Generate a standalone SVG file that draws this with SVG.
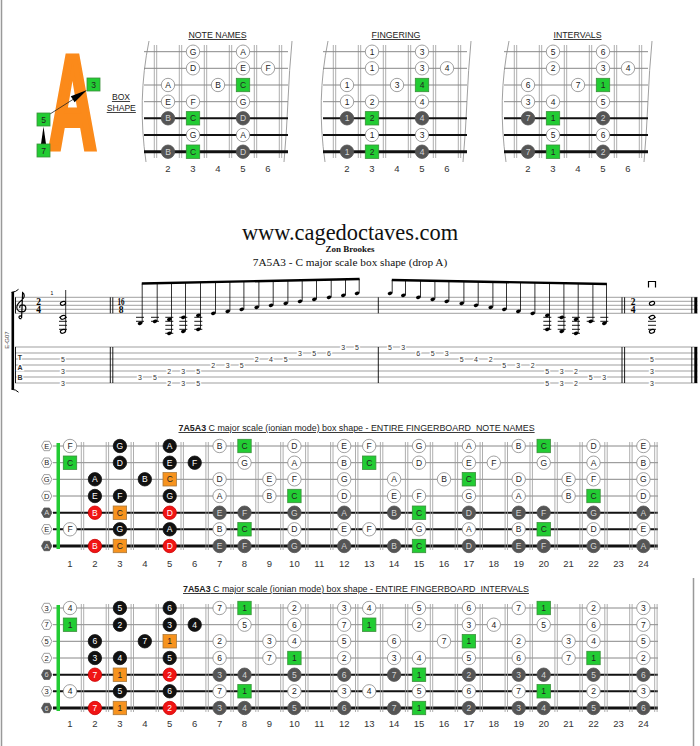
<svg xmlns="http://www.w3.org/2000/svg" xmlns:xlink="http://www.w3.org/1999/xlink" width="700" height="746" viewBox="0 0 700 746">
<style>
text{font-family:"Liberation Sans",Arial,sans-serif}
.serif{font-family:"Liberation Serif","Times New Roman",serif}
.nt text{font-size:8.5px;text-anchor:middle;fill:#222;dominant-baseline:central}
.nt text.l{fill:#fff}
.nt text.m{fill:#d4d4d4}
.w{fill:#fff;stroke:#888;stroke-width:.8}
.k{fill:#111;stroke:#111;stroke-width:.8}
.d{fill:#555;stroke:#555;stroke-width:.8}
.r{fill:#f01414;stroke:#c00;stroke-width:.8}
.g{fill:#22cc33;stroke:#3a8f3a;stroke-width:.8}
.o{fill:#f7931e;stroke:#a8773a;stroke-width:.8}
.thin{stroke:#888;stroke-width:1;fill:none}
.s1{stroke:#111;stroke-width:2;fill:none}
.s2{stroke:#111;stroke-width:3;fill:none}
.fr{stroke:#999;stroke-width:.8;fill:none}
.num{font-size:9.5px;text-anchor:middle;fill:#333}
.hdr{font-size:8.8px;text-anchor:middle;fill:#222;text-decoration:underline}
.ttl{font-size:8.9px;fill:#222;text-decoration:underline;white-space:pre}
.sl{stroke:#777;stroke-width:.7;fill:none}
.bl{stroke:#000;stroke-width:.9;fill:none}
.tn{font-size:7px;text-anchor:middle;fill:#333;stroke:#fff;stroke-width:2.6;paint-order:stroke}
.ts{font-family:"Liberation Serif","Times New Roman",serif;font-weight:bold;font-size:9.5px;text-anchor:middle}
</style>
<defs>
<circle id="c" r="6.7"/>
<rect id="sq" x="-6.7" y="-6.7" width="13.4" height="13.4"/>
<polygon id="hx" points="-5.2,0 -2.7,-4.7 2.7,-4.7 5.2,0 2.7,4.7 -2.7,4.7"/>
<ellipse id="nh" rx="2.4" ry="1.7" transform="rotate(-20)"/>
<ellipse id="hh" rx="2.7" ry="1.8" transform="rotate(-20)" fill="#fff" stroke="#000" stroke-width="1.1"/>
<g id="box">
<path class="fr" d="M-13.7 45V158M-11.3 45V158M11.3 45V158M13.7 45V158M36.3 45V158M38.7 45V158M61.3 45V158M63.7 45V158M86.3 45V158M88.7 45V158M111.3 45V158M113.7 45V158"/>
<path fill="none" stroke="#888" stroke-width=".8" d="M-19 41C-27 80 -28 120 -22 162M124 41C120 80 120 120 116 162"/>
<path class="thin" d="M-24 51.7H120M-24 68.3H120M-24 85H120M-24 101.7H120"/>
<path class="s1" d="M-24 118.3H120M-24 135H120"/>
<path class="s2" d="M-24 151.7H120"/>
</g>
<path id="fb" class="fr" d="M81.3 0V108M83.7 0V108M106.2 0V108M108.6 0V108M131.1 0V108M133.5 0V108M156.1 0V108M158.5 0V108M181 0V108M183.4 0V108M205.9 0V108M208.3 0V108M230.9 0V108M233.3 0V108M255.8 0V108M258.2 0V108M280.7 0V108M283.1 0V108M305.6 0V108M308 0V108M330.6 0V108M333 0V108M355.5 0V108M357.9 0V108M380.4 0V108M382.8 0V108M405.4 0V108M407.8 0V108M430.3 0V108M432.7 0V108M455.2 0V108M457.6 0V108M480.1 0V108M482.5 0V108M505.1 0V108M507.5 0V108M530 0V108M532.4 0V108M554.9 0V108M557.3 0V108M579.9 0V108M582.3 0V108M604.8 0V108M607.2 0V108M629.7 0V108M632.1 0V108M654.7 0V108M657.1 0V108"/>
<g id="strings">
<path class="thin" d="M53 446H658M53 462.7H658M53 479.3H658M53 496H658"/>
<path class="s1" d="M53 512.7H658M53 529.3H658"/>
<path class="s2" d="M53 546H658"/>
</g>
</defs>

<g id="frame"><path d="M1.5 0V746M693.5 578V746" stroke="#999" stroke-width="1.5"/></g>

<g id="logo">
<text transform="translate(72.5,149) scale(0.5,1)" text-anchor="middle" font-size="134" font-weight="bold" fill="#fb8a1a" stroke="#fb8a1a" stroke-width="6" stroke-linejoin="miter">A</text>
<path d="M50 114L80 95" stroke="#222" stroke-width=".8"/>
<polygon points="87,90 74.6,102.2 70.8,96.3" fill="#000"/>
<polygon points="43.5,126.5 41,144 46,144" fill="#000"/>
<g class="nt">
<rect x="87" y="78" width="13" height="13" class="g"/><text x="93.5" y="84.5">3</text>
<rect x="37" y="113" width="13" height="13" class="g"/><text x="43.5" y="119.5">5</text>
<rect x="37" y="144" width="13" height="13" class="g"/><text x="43.5" y="150.5">7</text>
</g>
<text x="121" y="100" font-size="8.6" text-anchor="middle" fill="#222" text-decoration="underline">BOX</text>
<text x="121.3" y="111" font-size="8.6" text-anchor="middle" fill="#222" text-decoration="underline">SHAPE</text>
</g>

<g id="box-note-names">
<text class="hdr" x="217.5" y="38">NOTE NAMES</text>
<use href="#box" x="168"/>
<g class="nt">
<use href="#c" x="193" y="51.7" class="w"/><text x="193" y="51.7">G</text>
<use href="#c" x="243" y="51.7" class="w"/><text x="243" y="51.7">A</text>
<use href="#c" x="193" y="68.3" class="w"/><text x="193" y="68.3">D</text>
<use href="#c" x="243" y="68.3" class="w"/><text x="243" y="68.3">E</text>
<use href="#c" x="268" y="68.3" class="w"/><text x="268" y="68.3">F</text>
<use href="#c" x="168" y="85" class="w"/><text x="168" y="85">A</text>
<use href="#c" x="218" y="85" class="w"/><text x="218" y="85">B</text>
<use href="#sq" x="243" y="85" class="g"/><text x="243" y="85">C</text>
<use href="#c" x="168" y="101.7" class="w"/><text x="168" y="101.7">E</text>
<use href="#c" x="193" y="101.7" class="w"/><text x="193" y="101.7">F</text>
<use href="#c" x="243" y="101.7" class="w"/><text x="243" y="101.7">G</text>
<use href="#c" x="168" y="118.3" class="d"/><text x="168" y="118.3" class="m">B</text>
<use href="#sq" x="193" y="118.3" class="g"/><text x="193" y="118.3">C</text>
<use href="#c" x="243" y="118.3" class="d"/><text x="243" y="118.3" class="m">D</text>
<use href="#c" x="193" y="135" class="w"/><text x="193" y="135">G</text>
<use href="#c" x="243" y="135" class="w"/><text x="243" y="135">A</text>
<use href="#c" x="168" y="151.7" class="d"/><text x="168" y="151.7" class="m">B</text>
<use href="#sq" x="193" y="151.7" class="g"/><text x="193" y="151.7">C</text>
<use href="#c" x="243" y="151.7" class="d"/><text x="243" y="151.7" class="m">D</text>
</g>
<text class="num" x="168" y="171.5">2</text><text class="num" x="193" y="171.5">3</text><text class="num" x="218" y="171.5">4</text><text class="num" x="243" y="171.5">5</text><text class="num" x="268" y="171.5">6</text>
</g>

<g id="box-fingering">
<text class="hdr" x="396" y="38">FINGERING</text>
<use href="#box" x="347"/>
<g class="nt">
<use href="#c" x="372" y="51.7" class="w"/><text x="372" y="51.7">1</text>
<use href="#c" x="422" y="51.7" class="w"/><text x="422" y="51.7">3</text>
<use href="#c" x="372" y="68.3" class="w"/><text x="372" y="68.3">1</text>
<use href="#c" x="422" y="68.3" class="w"/><text x="422" y="68.3">3</text>
<use href="#c" x="447" y="68.3" class="w"/><text x="447" y="68.3">4</text>
<use href="#c" x="347" y="85" class="w"/><text x="347" y="85">1</text>
<use href="#c" x="397" y="85" class="w"/><text x="397" y="85">3</text>
<use href="#sq" x="422" y="85" class="g"/><text x="422" y="85">4</text>
<use href="#c" x="347" y="101.7" class="w"/><text x="347" y="101.7">1</text>
<use href="#c" x="372" y="101.7" class="w"/><text x="372" y="101.7">2</text>
<use href="#c" x="422" y="101.7" class="w"/><text x="422" y="101.7">4</text>
<use href="#c" x="347" y="118.3" class="d"/><text x="347" y="118.3" class="m">1</text>
<use href="#sq" x="372" y="118.3" class="g"/><text x="372" y="118.3">2</text>
<use href="#c" x="422" y="118.3" class="d"/><text x="422" y="118.3" class="m">4</text>
<use href="#c" x="372" y="135" class="w"/><text x="372" y="135">1</text>
<use href="#c" x="422" y="135" class="w"/><text x="422" y="135">3</text>
<use href="#c" x="347" y="151.7" class="d"/><text x="347" y="151.7" class="m">1</text>
<use href="#sq" x="372" y="151.7" class="g"/><text x="372" y="151.7">2</text>
<use href="#c" x="422" y="151.7" class="d"/><text x="422" y="151.7" class="m">4</text>
</g>
<text class="num" x="347" y="171.5">2</text><text class="num" x="372" y="171.5">3</text><text class="num" x="397" y="171.5">4</text><text class="num" x="422" y="171.5">5</text><text class="num" x="447" y="171.5">6</text>
</g>

<g id="box-intervals">
<text class="hdr" x="577.5" y="38">INTERVALS</text>
<use href="#box" x="528"/>
<g class="nt">
<use href="#c" x="553" y="51.7" class="w"/><text x="553" y="51.7">5</text>
<use href="#c" x="603" y="51.7" class="w"/><text x="603" y="51.7">6</text>
<use href="#c" x="553" y="68.3" class="w"/><text x="553" y="68.3">2</text>
<use href="#c" x="603" y="68.3" class="w"/><text x="603" y="68.3">3</text>
<use href="#c" x="628" y="68.3" class="w"/><text x="628" y="68.3">4</text>
<use href="#c" x="528" y="85" class="w"/><text x="528" y="85">6</text>
<use href="#c" x="578" y="85" class="w"/><text x="578" y="85">7</text>
<use href="#sq" x="603" y="85" class="g"/><text x="603" y="85">1</text>
<use href="#c" x="528" y="101.7" class="w"/><text x="528" y="101.7">3</text>
<use href="#c" x="553" y="101.7" class="w"/><text x="553" y="101.7">4</text>
<use href="#c" x="603" y="101.7" class="w"/><text x="603" y="101.7">5</text>
<use href="#c" x="528" y="118.3" class="d"/><text x="528" y="118.3" class="m">7</text>
<use href="#sq" x="553" y="118.3" class="g"/><text x="553" y="118.3">1</text>
<use href="#c" x="603" y="118.3" class="d"/><text x="603" y="118.3" class="m">2</text>
<use href="#c" x="553" y="135" class="w"/><text x="553" y="135">5</text>
<use href="#c" x="603" y="135" class="w"/><text x="603" y="135">6</text>
<use href="#c" x="528" y="151.7" class="d"/><text x="528" y="151.7" class="m">7</text>
<use href="#sq" x="553" y="151.7" class="g"/><text x="553" y="151.7">1</text>
<use href="#c" x="603" y="151.7" class="d"/><text x="603" y="151.7" class="m">2</text>
</g>
<text class="num" x="528" y="171.5">2</text><text class="num" x="553" y="171.5">3</text><text class="num" x="578" y="171.5">4</text><text class="num" x="603" y="171.5">5</text><text class="num" x="628" y="171.5">6</text>
</g>

<g id="heading" class="serif" text-anchor="middle" fill="#111">
<text class="serif" x="350" y="240" font-size="22.4">www.cagedoctaves.com</text>
<text class="serif" x="350" y="252.3" font-size="9" font-weight="bold">Zon Brookes</text>
<text class="serif" x="350" y="265.8" font-size="11.3">7A5A3 - C major scale box shape (drop A)</text>
</g>

<g id="score">
<path class="sl" d="M15 297.3H697.5M15 301.3H697.5M15 305.3H697.5M15 309.3H697.5M15 313.3H697.5"/>
<path class="sl" d="M15 347H697.5M15 353H697.5M15 359H697.5M15 365H697.5M15 371H697.5M15 377H697.5M15 383H697.5"/>
<path d="M12.8 292V389.5" stroke="#000" stroke-width="2.6"/>
<path d="M11.5 292.3Q16 292 18.5 289.3M11.5 389.2Q16 389.5 18.5 392.2" stroke="#000" stroke-width="1" fill="none"/>
<path class="bl" d="M15.5 297.3V313.3M15.5 347V383M110.3 297.3V313.3M112.8 297.3V313.3M110.3 347V383M112.8 347V383M378.3 297.3V313.3M378.3 347V383M622 297.3V313.3M624.6 297.3V313.3M622 347V383M624.6 347V383M691.8 297.3V313.3M691.8 347V383"/>
<path d="M695.8 297.3V313.3M695.8 347V383" stroke="#000" stroke-width="3"/>
<text transform="translate(8.5,340) rotate(-90)" font-size="6" text-anchor="middle" fill="#444">E-G07</text>
<path d="M21.5 318.5c-1.6 .6 -3 -.6 -2.4 -1.9c.5 -1.1 2.3 -.9 2.3 .5M21.6 318L22.6 292.5c2.4 1.6 2.2 5.2 -.6 7.4c-3 2.4 -5.2 4.6 -5.2 7.4c0 3 2.5 4.5 5 4.5c2.4 0 4 -1.6 4 -3.6c0 -2 -1.6 -3.4 -3.4 -3.4c-1.9 0 -3 1.4 -2.6 3" stroke="#000" stroke-width="1.2" fill="none"/>
<text class="ts" x="38.5" y="304.6">2<tspan x="38.5" y="312.9">4</tspan></text>
<text class="ts" x="121" y="304.6"><tspan textLength="7" lengthAdjust="spacingAndGlyphs">16</tspan><tspan x="121" y="312.9">8</tspan></text>
<text class="ts" x="633" y="304.6">2<tspan x="633" y="312.9">4</tspan></text>
<text x="52" y="295" font-size="5" text-anchor="middle">1</text>
<path d="M648.5 287.5V281.5H655.5V287.5" stroke="#000" stroke-width="1.2" fill="none"/>
<path class="bl" stroke-width=".8" d="M59 317.3h8M59 321.3h8M59 325.3h8M59 329.3h8M648 317.3h8M648 321.3h8M648 325.3h8M648 329.3h8M136 317.3h8M136 321.3h8M151 317.3h8M151 321.3h8M165.3 317.3h8M165.3 321.3h8M165.3 325.3h8M165.3 329.3h8M165.3 333.3h8M179.3 317.3h8M179.3 321.3h8M179.3 325.3h8M179.3 329.3h8M194.3 317.3h8M194.3 321.3h8M194.3 325.3h8M194.3 329.3h8M543.3 317.3h8M543.3 321.3h8M543.3 325.3h8M543.3 329.3h8M557.7 317.3h8M557.7 321.3h8M557.7 325.3h8M557.7 329.3h8M572 317.3h8M572 321.3h8M572 325.3h8M572 329.3h8M572 333.3h8M586.7 317.3h8M586.7 321.3h8M600.3 317.3h8M600.3 321.3h8"/>
<use href="#hh" x="63" y="303.3"/><use href="#hh" x="63" y="317.3"/><use href="#hh" x="63" y="331.3"/>
<path d="M65.7 331V290" stroke="#000" stroke-width=".8"/>
<use href="#hh" x="652" y="303.3"/><use href="#hh" x="652" y="317.3"/><use href="#hh" x="652" y="331.3"/>
<g id="m2notes">
<use href="#nh" x="140" y="323.3"/><use href="#nh" x="155" y="321.3"/><use href="#nh" x="169.3" y="319.3"/><use href="#nh" x="169.3" y="333.3"/><use href="#nh" x="183.3" y="317.3"/><use href="#nh" x="183.3" y="331.3"/><use href="#nh" x="198.3" y="315.3"/><use href="#nh" x="198.3" y="329.3"/><use href="#nh" x="213.3" y="313.3"/><use href="#nh" x="227.7" y="311.3"/><use href="#nh" x="241.7" y="309.3"/><use href="#nh" x="256.7" y="307.3"/><use href="#nh" x="271" y="305.3"/><use href="#nh" x="285.7" y="303.3"/><use href="#nh" x="300" y="301.3"/><use href="#nh" x="314.3" y="299.3"/><use href="#nh" x="329" y="297.3"/><use href="#nh" x="343.3" y="295.3"/><use href="#nh" x="357" y="293.3"/>
</g>
<g id="m3notes">
<use href="#nh" x="390" y="293.3"/><use href="#nh" x="403.3" y="295.3"/><use href="#nh" x="418.3" y="297.3"/><use href="#nh" x="432.7" y="299.3"/><use href="#nh" x="446.7" y="301.3"/><use href="#nh" x="461.7" y="303.3"/><use href="#nh" x="476" y="305.3"/><use href="#nh" x="490.7" y="307.3"/><use href="#nh" x="504.3" y="309.3"/><use href="#nh" x="518.3" y="311.3"/><use href="#nh" x="532.7" y="313.3"/><use href="#nh" x="547.3" y="315.3"/><use href="#nh" x="547.3" y="329.3"/><use href="#nh" x="561.7" y="317.3"/><use href="#nh" x="561.7" y="331.3"/><use href="#nh" x="576" y="319.3"/><use href="#nh" x="576" y="333.3"/><use href="#nh" x="590.7" y="321.3"/><use href="#nh" x="604.3" y="323.3"/>
</g>
<path stroke="#000" stroke-width=".8" d="M142.2 323.3V283.5M157.2 321.3V283.2M171.5 333.3V282.9M185.5 331.3V282.6M200.5 329.3V282.3M215.5 313.3V282M229.9 311.3V281.7M243.9 309.3V281.4M258.9 307.3V281.1M273.2 305.3V280.8M287.9 303.3V280.5M302.2 301.3V280.2M316.5 299.3V279.9M331.2 297.3V279.6M345.5 295.3V279.3M359.2 293.3V279M392.2 293.3V280M405.5 295.3V280.2M420.5 297.3V280.5M434.9 299.3V280.8M448.9 301.3V281.1M463.9 303.3V281.3M478.2 305.3V281.6M492.9 307.3V281.9M506.5 309.3V282.1M520.5 311.3V282.4M534.9 313.3V282.7M549.5 329.3V282.9M563.9 331.3V283.2M578.2 333.3V283.5M592.9 321.3V283.7M606.5 323.3V284"/>
<path stroke="#000" stroke-width="2.4" d="M141.8 283.5L359.6 279M391.8 280L606.9 284"/>
<text class="tn" x="20" y="360" font-size="9.5" font-weight="bold" fill="#000">T</text>
<text class="tn" x="20" y="369.5" font-size="9.5" font-weight="bold" fill="#000">A</text>
<text class="tn" x="20" y="380" font-size="9.5" font-weight="bold" fill="#000">B</text>
<g id="tabnums">
<text class="tn" x="63" y="361.5">5</text><text class="tn" x="63" y="373.5">3</text><text class="tn" x="63" y="385.5">3</text>
<text class="tn" x="140" y="379.5">3</text><text class="tn" x="155" y="379.5">5</text>
<text class="tn" x="169.3" y="373.5">2</text><text class="tn" x="169.3" y="385.5">2</text>
<text class="tn" x="183.3" y="373.5">3</text><text class="tn" x="183.3" y="385.5">3</text>
<text class="tn" x="198.3" y="373.5">5</text><text class="tn" x="198.3" y="385.5">5</text>
<text class="tn" x="213.3" y="367.5">2</text><text class="tn" x="227.7" y="367.5">3</text><text class="tn" x="241.7" y="367.5">5</text>
<text class="tn" x="256.7" y="361.5">2</text><text class="tn" x="271" y="361.5">4</text><text class="tn" x="285.7" y="361.5">5</text>
<text class="tn" x="300" y="355.5">3</text><text class="tn" x="314.3" y="355.5">5</text><text class="tn" x="329" y="355.5">6</text>
<text class="tn" x="343.3" y="349.5">3</text><text class="tn" x="357" y="349.5">5</text>
<text class="tn" x="390" y="349.5">5</text><text class="tn" x="403.3" y="349.5">3</text>
<text class="tn" x="418.3" y="355.5">6</text><text class="tn" x="432.7" y="355.5">5</text><text class="tn" x="446.7" y="355.5">3</text>
<text class="tn" x="461.7" y="361.5">5</text><text class="tn" x="476" y="361.5">4</text><text class="tn" x="490.7" y="361.5">2</text>
<text class="tn" x="504.3" y="367.5">5</text><text class="tn" x="518.3" y="367.5">3</text><text class="tn" x="532.7" y="367.5">2</text>
<text class="tn" x="547.3" y="373.5">5</text><text class="tn" x="547.3" y="385.5">5</text>
<text class="tn" x="561.7" y="373.5">3</text><text class="tn" x="561.7" y="385.5">3</text>
<text class="tn" x="576" y="373.5">2</text><text class="tn" x="576" y="385.5">2</text>
<text class="tn" x="590.7" y="379.5">5</text><text class="tn" x="604.3" y="379.5">3</text>
<text class="tn" x="652" y="361.5">5</text><text class="tn" x="652" y="373.5">3</text><text class="tn" x="652" y="385.5">3</text>
</g>
</g>

<g id="board-note-names">
<text class="ttl" x="178.5" y="431"><tspan font-weight="bold">7A5A3</tspan> C major scale (ionian mode) box shape - ENTIRE FINGERBOARD  NOTE NAMES</text>
<use href="#strings"/>
<use href="#fb" y="442"/>
<rect x="56.5" y="443" width="3.5" height="106" fill="#22cc33"/>
<g class="nt">
<g transform="translate(0,446)"><use href="#hx" x="46.7" class="w"/><text x="46.7" style="font-size:7.5px">E</text>
<use href="#c" x="70" class="w"/><text x="70">F</text><use href="#c" x="119.9" class="k"/><text x="119.9" class="l">G</text><use href="#c" x="169.7" class="k"/><text x="169.7" class="l">A</text><use href="#c" x="219.6" class="w"/><text x="219.6">B</text><use href="#sq" x="244.5" class="g"/><text x="244.5">C</text><use href="#c" x="294.4" class="w"/><text x="294.4">D</text><use href="#c" x="344.2" class="w"/><text x="344.2">E</text><use href="#c" x="369.2" class="w"/><text x="369.2">F</text><use href="#c" x="419" class="w"/><text x="419">G</text><use href="#c" x="468.9" class="w"/><text x="468.9">A</text><use href="#c" x="518.7" class="w"/><text x="518.7">B</text><use href="#sq" x="543.7" class="g"/><text x="543.7">C</text><use href="#c" x="593.5" class="w"/><text x="593.5">D</text><use href="#c" x="643.4" class="w"/><text x="643.4">E</text></g>
<g transform="translate(0,462.7)"><use href="#hx" x="46.7" class="w"/><text x="46.7" style="font-size:7.5px">B</text>
<use href="#sq" x="70" class="g"/><text x="70">C</text><use href="#c" x="119.9" class="k"/><text x="119.9" class="l">D</text><use href="#c" x="169.7" class="k"/><text x="169.7" class="l">E</text><use href="#c" x="194.7" class="k"/><text x="194.7" class="l">F</text><use href="#c" x="244.5" class="w"/><text x="244.5">G</text><use href="#c" x="294.4" class="w"/><text x="294.4">A</text><use href="#c" x="344.2" class="w"/><text x="344.2">B</text><use href="#sq" x="369.2" class="g"/><text x="369.2">C</text><use href="#c" x="419" class="w"/><text x="419">D</text><use href="#c" x="468.9" class="w"/><text x="468.9">E</text><use href="#c" x="493.8" class="w"/><text x="493.8">F</text><use href="#c" x="543.7" class="w"/><text x="543.7">G</text><use href="#c" x="593.5" class="w"/><text x="593.5">A</text><use href="#c" x="643.4" class="w"/><text x="643.4">B</text></g>
<g transform="translate(0,479.3)"><use href="#hx" x="46.7" class="w"/><text x="46.7" style="font-size:7.5px">G</text>
<use href="#c" x="94.9" class="k"/><text x="94.9" class="l">A</text><use href="#c" x="144.8" class="k"/><text x="144.8" class="l">B</text><use href="#sq" x="169.7" class="o"/><text x="169.7">C</text><use href="#c" x="219.6" class="w"/><text x="219.6">D</text><use href="#c" x="269.4" class="w"/><text x="269.4">E</text><use href="#c" x="294.4" class="w"/><text x="294.4">F</text><use href="#c" x="344.2" class="w"/><text x="344.2">G</text><use href="#c" x="394.1" class="w"/><text x="394.1">A</text><use href="#c" x="444" class="w"/><text x="444">B</text><use href="#sq" x="468.9" class="g"/><text x="468.9">C</text><use href="#c" x="518.7" class="w"/><text x="518.7">D</text><use href="#c" x="568.6" class="w"/><text x="568.6">E</text><use href="#c" x="593.5" class="w"/><text x="593.5">F</text><use href="#c" x="643.4" class="w"/><text x="643.4">G</text></g>
<g transform="translate(0,496)"><use href="#hx" x="46.7" class="w"/><text x="46.7" style="font-size:7.5px">D</text>
<use href="#c" x="94.9" class="k"/><text x="94.9" class="l">E</text><use href="#c" x="119.9" class="k"/><text x="119.9" class="l">F</text><use href="#c" x="169.7" class="k"/><text x="169.7" class="l">G</text><use href="#c" x="219.6" class="w"/><text x="219.6">A</text><use href="#c" x="269.4" class="w"/><text x="269.4">B</text><use href="#sq" x="294.4" class="g"/><text x="294.4">C</text><use href="#c" x="344.2" class="w"/><text x="344.2">D</text><use href="#c" x="394.1" class="w"/><text x="394.1">E</text><use href="#c" x="419" class="w"/><text x="419">F</text><use href="#c" x="468.9" class="w"/><text x="468.9">G</text><use href="#c" x="518.7" class="w"/><text x="518.7">A</text><use href="#c" x="568.6" class="w"/><text x="568.6">B</text><use href="#sq" x="593.5" class="g"/><text x="593.5">C</text><use href="#c" x="643.4" class="w"/><text x="643.4">D</text></g>
<g transform="translate(0,512.7)"><use href="#hx" x="46.7" class="d"/><text x="46.7" class="m" style="font-size:7.5px">A</text>
<use href="#c" x="94.9" class="r"/><text x="94.9" class="l">B</text><use href="#sq" x="119.9" class="o"/><text x="119.9">C</text><use href="#c" x="169.7" class="r"/><text x="169.7" class="l">D</text><use href="#c" x="219.6" class="d"/><text x="219.6" class="m">E</text><use href="#c" x="244.5" class="d"/><text x="244.5" class="m">F</text><use href="#c" x="294.4" class="d"/><text x="294.4" class="m">G</text><use href="#c" x="344.2" class="d"/><text x="344.2" class="m">A</text><use href="#c" x="394.1" class="d"/><text x="394.1" class="m">B</text><use href="#sq" x="419" class="g"/><text x="419">C</text><use href="#c" x="468.9" class="d"/><text x="468.9" class="m">D</text><use href="#c" x="518.7" class="d"/><text x="518.7" class="m">E</text><use href="#c" x="543.7" class="d"/><text x="543.7" class="m">F</text><use href="#c" x="593.5" class="d"/><text x="593.5" class="m">G</text><use href="#c" x="643.4" class="d"/><text x="643.4" class="m">A</text></g>
<g transform="translate(0,529.3)"><use href="#hx" x="46.7" class="w"/><text x="46.7" style="font-size:7.5px">E</text>
<use href="#c" x="70" class="w"/><text x="70">F</text><use href="#c" x="119.9" class="k"/><text x="119.9" class="l">G</text><use href="#c" x="169.7" class="k"/><text x="169.7" class="l">A</text><use href="#c" x="219.6" class="w"/><text x="219.6">B</text><use href="#sq" x="244.5" class="g"/><text x="244.5">C</text><use href="#c" x="294.4" class="w"/><text x="294.4">D</text><use href="#c" x="344.2" class="w"/><text x="344.2">E</text><use href="#c" x="369.2" class="w"/><text x="369.2">F</text><use href="#c" x="419" class="w"/><text x="419">G</text><use href="#c" x="468.9" class="w"/><text x="468.9">A</text><use href="#c" x="518.7" class="w"/><text x="518.7">B</text><use href="#sq" x="543.7" class="g"/><text x="543.7">C</text><use href="#c" x="593.5" class="w"/><text x="593.5">D</text><use href="#c" x="643.4" class="w"/><text x="643.4">E</text></g>
<g transform="translate(0,546)"><use href="#hx" x="46.7" class="d"/><text x="46.7" class="m" style="font-size:7.5px">A</text>
<use href="#c" x="94.9" class="r"/><text x="94.9" class="l">B</text><use href="#sq" x="119.9" class="o"/><text x="119.9">C</text><use href="#c" x="169.7" class="r"/><text x="169.7" class="l">D</text><use href="#c" x="219.6" class="d"/><text x="219.6" class="m">E</text><use href="#c" x="244.5" class="d"/><text x="244.5" class="m">F</text><use href="#c" x="294.4" class="d"/><text x="294.4" class="m">G</text><use href="#c" x="344.2" class="d"/><text x="344.2" class="m">A</text><use href="#c" x="394.1" class="d"/><text x="394.1" class="m">B</text><use href="#sq" x="419" class="g"/><text x="419">C</text><use href="#c" x="468.9" class="d"/><text x="468.9" class="m">D</text><use href="#c" x="518.7" class="d"/><text x="518.7" class="m">E</text><use href="#c" x="543.7" class="d"/><text x="543.7" class="m">F</text><use href="#c" x="593.5" class="d"/><text x="593.5" class="m">G</text><use href="#c" x="643.4" class="d"/><text x="643.4" class="m">A</text></g>
</g>
<g id="fretnums1">
<text class="num" x="70" y="566.5">1</text><text class="num" x="94.9" y="566.5">2</text><text class="num" x="119.9" y="566.5">3</text><text class="num" x="144.8" y="566.5">4</text><text class="num" x="169.7" y="566.5">5</text><text class="num" x="194.7" y="566.5">6</text><text class="num" x="219.6" y="566.5">7</text><text class="num" x="244.5" y="566.5">8</text><text class="num" x="269.4" y="566.5">9</text><text class="num" x="294.4" y="566.5">10</text><text class="num" x="319.3" y="566.5">11</text><text class="num" x="344.2" y="566.5">12</text><text class="num" x="369.2" y="566.5">13</text><text class="num" x="394.1" y="566.5">14</text><text class="num" x="419" y="566.5">15</text><text class="num" x="444" y="566.5">16</text><text class="num" x="468.9" y="566.5">17</text><text class="num" x="493.8" y="566.5">18</text><text class="num" x="518.7" y="566.5">19</text><text class="num" x="543.7" y="566.5">20</text><text class="num" x="568.6" y="566.5">21</text><text class="num" x="593.5" y="566.5">22</text><text class="num" x="618.5" y="566.5">23</text><text class="num" x="643.4" y="566.5">24</text>
</g>
</g>

<g id="board-intervals">
<text class="ttl" x="183" y="592"><tspan font-weight="bold">7A5A3</tspan> C major scale (ionian mode) box shape - ENTIRE FINGERBOARD  INTERVALS</text>
<g transform="translate(0,162)">
<use href="#strings"/>
<use href="#fb" y="442"/>
<rect x="56.5" y="443" width="3.5" height="106" fill="#22cc33"/>
<g class="nt">
<g transform="translate(0,446)"><use href="#hx" x="46.7" class="w"/><text x="46.7" style="font-size:7.5px">3</text>
<use href="#c" x="70" class="w"/><text x="70">4</text><use href="#c" x="119.9" class="k"/><text x="119.9" class="l">5</text><use href="#c" x="169.7" class="k"/><text x="169.7" class="l">6</text><use href="#c" x="219.6" class="w"/><text x="219.6">7</text><use href="#sq" x="244.5" class="g"/><text x="244.5">1</text><use href="#c" x="294.4" class="w"/><text x="294.4">2</text><use href="#c" x="344.2" class="w"/><text x="344.2">3</text><use href="#c" x="369.2" class="w"/><text x="369.2">4</text><use href="#c" x="419" class="w"/><text x="419">5</text><use href="#c" x="468.9" class="w"/><text x="468.9">6</text><use href="#c" x="518.7" class="w"/><text x="518.7">7</text><use href="#sq" x="543.7" class="g"/><text x="543.7">1</text><use href="#c" x="593.5" class="w"/><text x="593.5">2</text><use href="#c" x="643.4" class="w"/><text x="643.4">3</text></g>
<g transform="translate(0,462.7)"><use href="#hx" x="46.7" class="w"/><text x="46.7" style="font-size:7.5px">7</text>
<use href="#sq" x="70" class="g"/><text x="70">1</text><use href="#c" x="119.9" class="k"/><text x="119.9" class="l">2</text><use href="#c" x="169.7" class="k"/><text x="169.7" class="l">3</text><use href="#c" x="194.7" class="k"/><text x="194.7" class="l">4</text><use href="#c" x="244.5" class="w"/><text x="244.5">5</text><use href="#c" x="294.4" class="w"/><text x="294.4">6</text><use href="#c" x="344.2" class="w"/><text x="344.2">7</text><use href="#sq" x="369.2" class="g"/><text x="369.2">1</text><use href="#c" x="419" class="w"/><text x="419">2</text><use href="#c" x="468.9" class="w"/><text x="468.9">3</text><use href="#c" x="493.8" class="w"/><text x="493.8">4</text><use href="#c" x="543.7" class="w"/><text x="543.7">5</text><use href="#c" x="593.5" class="w"/><text x="593.5">6</text><use href="#c" x="643.4" class="w"/><text x="643.4">7</text></g>
<g transform="translate(0,479.3)"><use href="#hx" x="46.7" class="w"/><text x="46.7" style="font-size:7.5px">5</text>
<use href="#c" x="94.9" class="k"/><text x="94.9" class="l">6</text><use href="#c" x="144.8" class="k"/><text x="144.8" class="l">7</text><use href="#sq" x="169.7" class="o"/><text x="169.7">1</text><use href="#c" x="219.6" class="w"/><text x="219.6">2</text><use href="#c" x="269.4" class="w"/><text x="269.4">3</text><use href="#c" x="294.4" class="w"/><text x="294.4">4</text><use href="#c" x="344.2" class="w"/><text x="344.2">5</text><use href="#c" x="394.1" class="w"/><text x="394.1">6</text><use href="#c" x="444" class="w"/><text x="444">7</text><use href="#sq" x="468.9" class="g"/><text x="468.9">1</text><use href="#c" x="518.7" class="w"/><text x="518.7">2</text><use href="#c" x="568.6" class="w"/><text x="568.6">3</text><use href="#c" x="593.5" class="w"/><text x="593.5">4</text><use href="#c" x="643.4" class="w"/><text x="643.4">5</text></g>
<g transform="translate(0,496)"><use href="#hx" x="46.7" class="w"/><text x="46.7" style="font-size:7.5px">2</text>
<use href="#c" x="94.9" class="k"/><text x="94.9" class="l">3</text><use href="#c" x="119.9" class="k"/><text x="119.9" class="l">4</text><use href="#c" x="169.7" class="k"/><text x="169.7" class="l">5</text><use href="#c" x="219.6" class="w"/><text x="219.6">6</text><use href="#c" x="269.4" class="w"/><text x="269.4">7</text><use href="#sq" x="294.4" class="g"/><text x="294.4">1</text><use href="#c" x="344.2" class="w"/><text x="344.2">2</text><use href="#c" x="394.1" class="w"/><text x="394.1">3</text><use href="#c" x="419" class="w"/><text x="419">4</text><use href="#c" x="468.9" class="w"/><text x="468.9">5</text><use href="#c" x="518.7" class="w"/><text x="518.7">6</text><use href="#c" x="568.6" class="w"/><text x="568.6">7</text><use href="#sq" x="593.5" class="g"/><text x="593.5">1</text><use href="#c" x="643.4" class="w"/><text x="643.4">2</text></g>
<g transform="translate(0,512.7)"><use href="#hx" x="46.7" class="d"/><text x="46.7" class="m" style="font-size:7.5px">6</text>
<use href="#c" x="94.9" class="r"/><text x="94.9" class="l">7</text><use href="#sq" x="119.9" class="o"/><text x="119.9">1</text><use href="#c" x="169.7" class="r"/><text x="169.7" class="l">2</text><use href="#c" x="219.6" class="d"/><text x="219.6" class="m">3</text><use href="#c" x="244.5" class="d"/><text x="244.5" class="m">4</text><use href="#c" x="294.4" class="d"/><text x="294.4" class="m">5</text><use href="#c" x="344.2" class="d"/><text x="344.2" class="m">6</text><use href="#c" x="394.1" class="d"/><text x="394.1" class="m">7</text><use href="#sq" x="419" class="g"/><text x="419">1</text><use href="#c" x="468.9" class="d"/><text x="468.9" class="m">2</text><use href="#c" x="518.7" class="d"/><text x="518.7" class="m">3</text><use href="#c" x="543.7" class="d"/><text x="543.7" class="m">4</text><use href="#c" x="593.5" class="d"/><text x="593.5" class="m">5</text><use href="#c" x="643.4" class="d"/><text x="643.4" class="m">6</text></g>
<g transform="translate(0,529.3)"><use href="#hx" x="46.7" class="w"/><text x="46.7" style="font-size:7.5px">3</text>
<use href="#c" x="70" class="w"/><text x="70">4</text><use href="#c" x="119.9" class="k"/><text x="119.9" class="l">5</text><use href="#c" x="169.7" class="k"/><text x="169.7" class="l">6</text><use href="#c" x="219.6" class="w"/><text x="219.6">7</text><use href="#sq" x="244.5" class="g"/><text x="244.5">1</text><use href="#c" x="294.4" class="w"/><text x="294.4">2</text><use href="#c" x="344.2" class="w"/><text x="344.2">3</text><use href="#c" x="369.2" class="w"/><text x="369.2">4</text><use href="#c" x="419" class="w"/><text x="419">5</text><use href="#c" x="468.9" class="w"/><text x="468.9">6</text><use href="#c" x="518.7" class="w"/><text x="518.7">7</text><use href="#sq" x="543.7" class="g"/><text x="543.7">1</text><use href="#c" x="593.5" class="w"/><text x="593.5">2</text><use href="#c" x="643.4" class="w"/><text x="643.4">3</text></g>
<g transform="translate(0,546)"><use href="#hx" x="46.7" class="d"/><text x="46.7" class="m" style="font-size:7.5px">6</text>
<use href="#c" x="94.9" class="r"/><text x="94.9" class="l">7</text><use href="#sq" x="119.9" class="o"/><text x="119.9">1</text><use href="#c" x="169.7" class="r"/><text x="169.7" class="l">2</text><use href="#c" x="219.6" class="d"/><text x="219.6" class="m">3</text><use href="#c" x="244.5" class="d"/><text x="244.5" class="m">4</text><use href="#c" x="294.4" class="d"/><text x="294.4" class="m">5</text><use href="#c" x="344.2" class="d"/><text x="344.2" class="m">6</text><use href="#c" x="394.1" class="d"/><text x="394.1" class="m">7</text><use href="#sq" x="419" class="g"/><text x="419">1</text><use href="#c" x="468.9" class="d"/><text x="468.9" class="m">2</text><use href="#c" x="518.7" class="d"/><text x="518.7" class="m">3</text><use href="#c" x="543.7" class="d"/><text x="543.7" class="m">4</text><use href="#c" x="593.5" class="d"/><text x="593.5" class="m">5</text><use href="#c" x="643.4" class="d"/><text x="643.4" class="m">6</text></g>
</g>
</g>
<g id="fretnums2">
<text class="num" x="70" y="726.5">1</text><text class="num" x="94.9" y="726.5">2</text><text class="num" x="119.9" y="726.5">3</text><text class="num" x="144.8" y="726.5">4</text><text class="num" x="169.7" y="726.5">5</text><text class="num" x="194.7" y="726.5">6</text><text class="num" x="219.6" y="726.5">7</text><text class="num" x="244.5" y="726.5">8</text><text class="num" x="269.4" y="726.5">9</text><text class="num" x="294.4" y="726.5">10</text><text class="num" x="319.3" y="726.5">11</text><text class="num" x="344.2" y="726.5">12</text><text class="num" x="369.2" y="726.5">13</text><text class="num" x="394.1" y="726.5">14</text><text class="num" x="419" y="726.5">15</text><text class="num" x="444" y="726.5">16</text><text class="num" x="468.9" y="726.5">17</text><text class="num" x="493.8" y="726.5">18</text><text class="num" x="518.7" y="726.5">19</text><text class="num" x="543.7" y="726.5">20</text><text class="num" x="568.6" y="726.5">21</text><text class="num" x="593.5" y="726.5">22</text><text class="num" x="618.5" y="726.5">23</text><text class="num" x="643.4" y="726.5">24</text>
</g>
</g>
</svg>
